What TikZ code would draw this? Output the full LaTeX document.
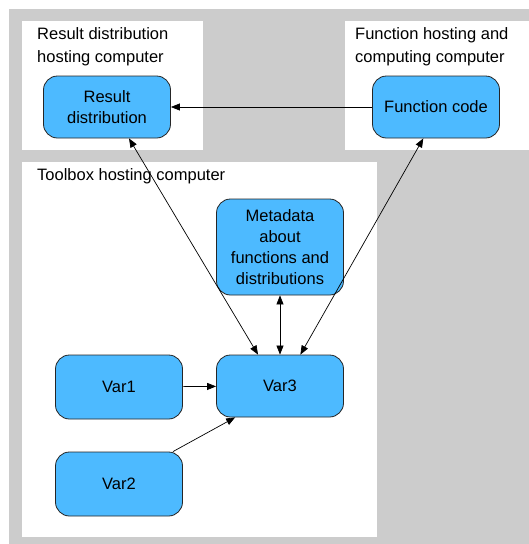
\documentclass[tikz,border=0pt]{standalone}
\usepackage{fontspec}
\setmainfont{Liberation Sans}
\usetikzlibrary{arrows.meta}
\definecolor{boxblue}{RGB}{77,186,255}
\definecolor{panelgray}{RGB}{204,204,204}

\begin{document}
\begin{tikzpicture}[x=1pt,y=-1pt,
  var/.style={draw=black!85,line width=0.8pt,fill=boxblue,rounded corners=14pt,
    minimum width=127pt,minimum height=62pt,inner sep=0pt,align=center,
    font=\fontsize{16.5}{21}\selectfont},
  lab/.style={anchor=base west,align=left,inner sep=0pt,
    font=\fontsize{16.5}{23}\selectfont},
  link/.style={-{Triangle[length=9pt,width=7pt]},line width=0.7pt},
  both/.style={{Triangle[length=9pt,width=7pt]}-{Triangle[length=9pt,width=7pt]},line width=0.7pt}]
\useasboundingbox (0,0) rectangle (529,544);
\fill[panelgray] (9,9) rectangle (529,544);
\fill[white] (22,21) rectangle (203,150);
\fill[white] (345,21) rectangle (529,150);
\fill[white] (22,162) rectangle (377,537);
\node[lab] (reslab) at (37,62) {Result distribution\\hosting computer};
\node[lab] (funlab) at (355,62) {Function hosting and\\computing computer};
\node[lab] (toollab) at (37,180) {Toolbox hosting computer};
\node[var] (res) at (107,107) {Result\\distribution};
\node[var] (fun) at (436,107) {Function code};
\node[var,minimum height=96pt] (meta) at (280,247) {Metadata\\about\\functions and\\distributions};
\node[var] (var3) at (280,386) {Var3};
\node[var,minimum height=64pt] (var1) at (119,387) {Var1};
\node[var,minimum height=64pt] (var2) at (119,484) {Var2};
\draw[link] (fun) -- (res);
\draw[both] (res.-55) -- (var3.125);
\draw[both] (fun.-112) -- (var3.57);
\draw[both] (meta) -- (var3);
\draw[link] (var1) -- (var3);
\draw[link] (var2.31) -- (var3.-145);
\end{tikzpicture}
\end{document}
